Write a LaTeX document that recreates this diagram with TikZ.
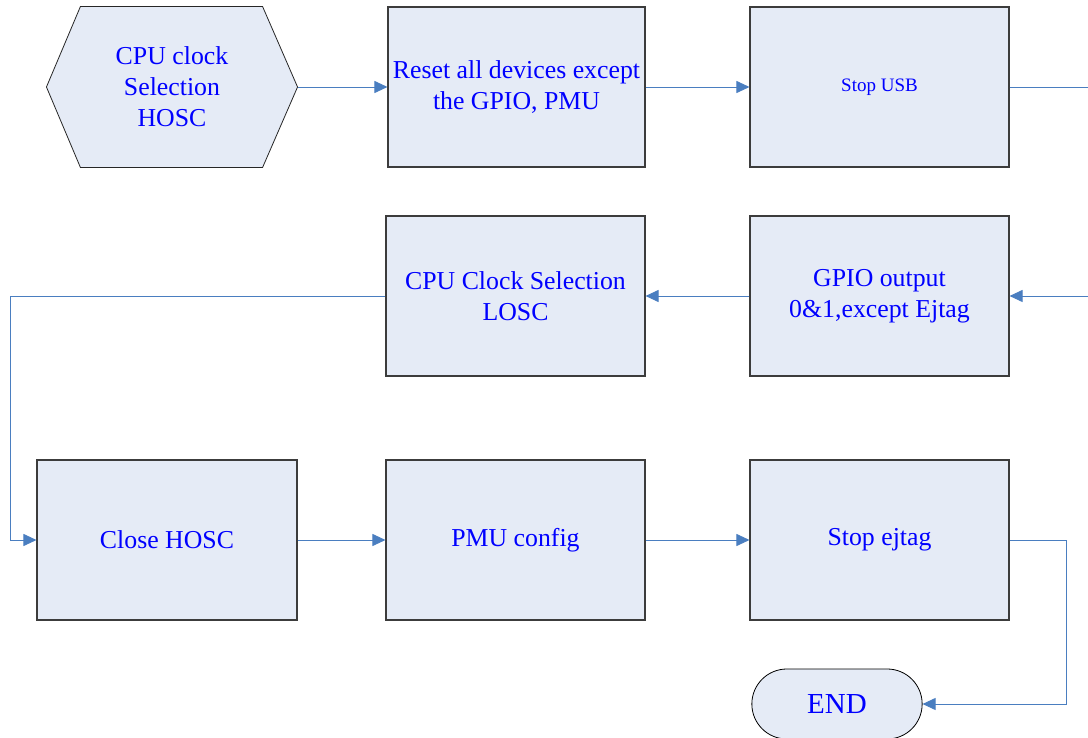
\documentclass[tikz,border=0pt]{standalone}
\usepackage{fontspec}
\setmainfont{Liberation Serif}
\usetikzlibrary{arrows.meta,shapes.misc,backgrounds}
\definecolor{boxfill}{RGB}{229,235,246}
\definecolor{boxline}{RGB}{60,60,60}
\definecolor{flow}{RGB}{74,126,192}
\definecolor{label}{RGB}{0,0,255}
\begin{document}
\begin{tikzpicture}[x=1pt,y=-1pt,
  stepbox/.style={draw=boxline, line width=1.1pt, fill=boxfill,
    minimum width=259pt, minimum height=160pt, inner sep=2pt,
    align=center, text=label, font=\fontsize{25.8}{31}\selectfont},
  flowline/.style={draw=flow, line width=0.9pt,
    -{Triangle[length=13pt,width=12pt]}}]
\useasboundingbox (0,0) rectangle (1088,738);

% first row
\node[stepbox, draw=none, fill=none, minimum width=250pt] (start) at (172,87)
  {CPU clock\\Selection\\HOSC};
\node[stepbox, minimum width=257pt] (reset) at (516.5,87)
  {Reset all devices except\\the GPIO, PMU};
\node[stepbox, font=\fontsize{19}{23}\selectfont] (usb) at (879.5,87) {Stop USB};

% second row
\node[stepbox] (gpio) at (879.5,296) {GPIO output\\0\&1,except Ejtag};
\node[stepbox] (losc) at (515.5,296) {CPU Clock Selection\\LOSC};

% third row
\node[stepbox, minimum width=260pt] (close) at (167,540) {Close HOSC};
\node[stepbox] (pmu) at (515.5,540) {PMU config};
\node[stepbox] (ejtag) at (879.5,540) {Stop ejtag};

% terminal
\node[rounded rectangle, draw=black, line width=0.8pt, fill=boxfill,
  minimum width=177pt, minimum height=70pt, text=label,
  font=\fontsize{29}{34}\selectfont] (end) at (837,704) {END};

% hexagonal start symbol behind its label
\begin{scope}[on background layer]
\draw[draw=black!85, line width=0.8pt, fill=boxfill]
  (start.west) -- ([xshift=34pt]start.north west)
  -- ([xshift=-35pt]start.north east) -- (start.east)
  -- ([xshift=-35pt]start.south east) -- ([xshift=34pt]start.south west)
  -- cycle;
\end{scope}

% connectors
\draw[flowline] (start.east) -- (reset.west);
\draw[flowline] (reset) -- (usb);
\draw[flowline] (usb.east) -- ++(90,0) |- (gpio.east);
\draw[flowline] (gpio) -- (losc);
\draw[flowline] (losc.west) -- ++(-375,0) |- (close.west);
\draw[flowline] (close) -- (pmu);
\draw[flowline] (pmu) -- (ejtag);
\draw[flowline] (ejtag.east) -- ++(57,0) |- (end.east);
\end{tikzpicture}
\end{document}
